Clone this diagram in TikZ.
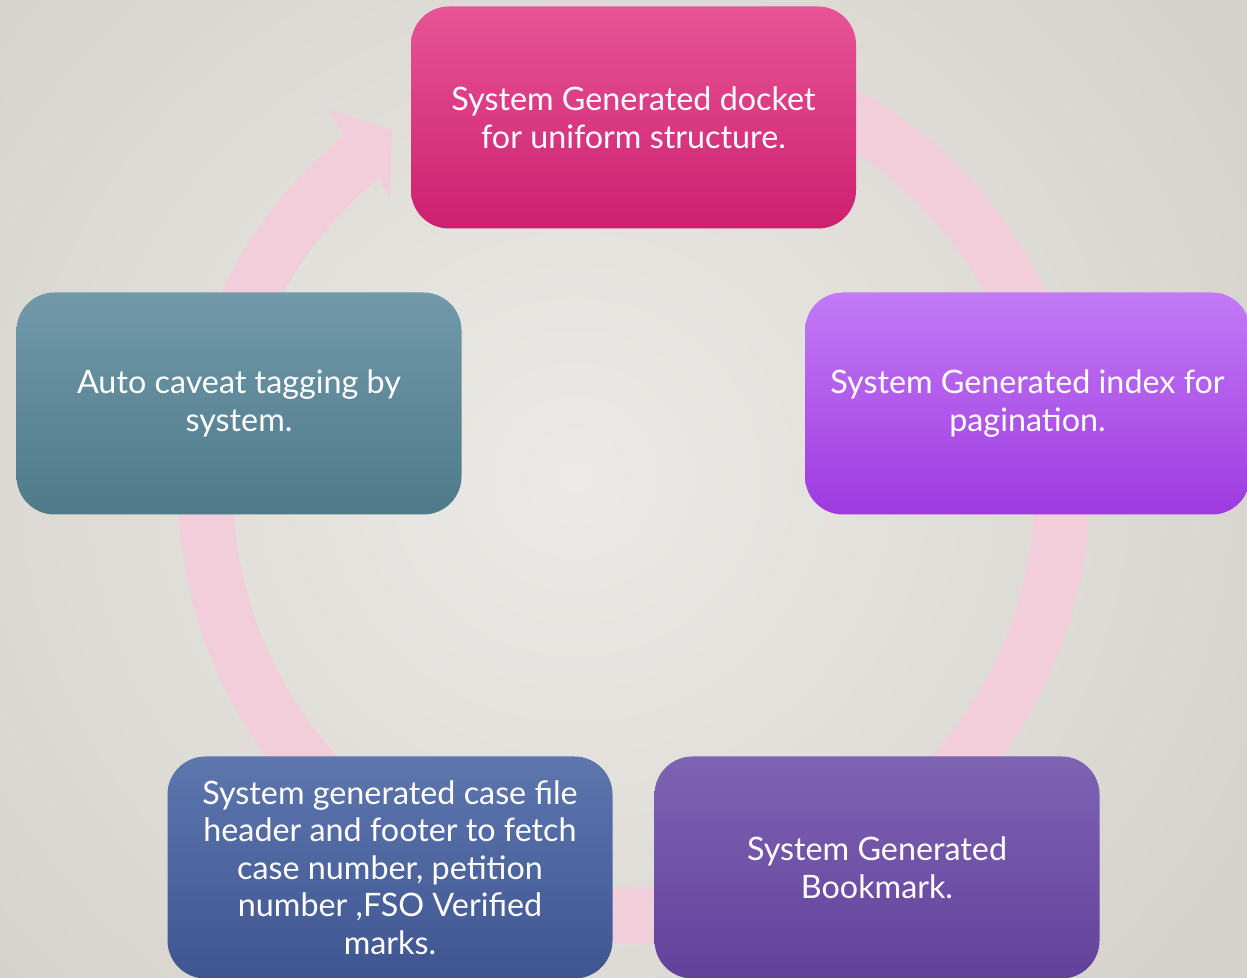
\documentclass[tikz,border=0pt]{standalone}
\usepackage{fontspec}
\setmainfont{Lato}
\definecolor{ringpink}{RGB}{242,205,218}
\definecolor{bginner}{RGB}{236,234,230}
\definecolor{bgouter}{RGB}{214,211,205}
\definecolor{pkT}{RGB}{232,84,150}
\definecolor{pkM}{RGB}{221,26,117}
\definecolor{pkB}{RGB}{204,32,112}
\definecolor{vtT}{RGB}{194,122,245}
\definecolor{vtM}{RGB}{172,76,234}
\definecolor{vtB}{RGB}{158,58,224}
\definecolor{prT}{RGB}{126,99,179}
\definecolor{prM}{RGB}{111,80,167}
\definecolor{prB}{RGB}{98,65,155}
\definecolor{blT}{RGB}{94,118,174}
\definecolor{blM}{RGB}{76,100,160}
\definecolor{blB}{RGB}{62,85,145}
\definecolor{tlT}{RGB}{113,153,169}
\definecolor{tlM}{RGB}{94,137,152}
\definecolor{tlB}{RGB}{78,122,138}
\tikzset{
  cyclebox/.style={rounded corners=38pt, minimum width=445pt, minimum height=222pt,
    inner sep=0pt, align=center, text=white,
    font=\fontsize{32.3}{37.5}\selectfont},
  pinkbox/.style={cyclebox, top color=pkT, middle color=pkM, bottom color=pkB},
  violetbox/.style={cyclebox, top color=vtT, middle color=vtM, bottom color=vtB},
  purplebox/.style={cyclebox, top color=prT, middle color=prM, bottom color=prB},
  bluebox/.style={cyclebox, top color=blT, middle color=blM, bottom color=blB},
  tealbox/.style={cyclebox, top color=tlT, middle color=tlM, bottom color=tlB},
  ringarrow/.style={fill=ringpink, draw=none}
}
\begin{document}
\begin{tikzpicture}[x=1pt,y=1pt]
\useasboundingbox (0,0) rectangle (1247,977);
\clip (0,0) rectangle (1247,977);
\shade[inner color=bginner, outer color=bgouter] (-200,-250) rectangle (1350,1250);
\coordinate (ringc) at (634,490);
\begin{scope}[shift={(ringc)}]
\fill[ringarrow] (80:456) arc[start angle=80, end angle=-230.5, radius=456]
  -- (-306,378) -- (-242,357) -- (-244,287)
  -- (129.5:401) arc[start angle=-230.5, end angle=80, radius=401] -- cycle;
\end{scope}
\node[pinkbox] (docket) at (633.5,859.5) {System Generated docket\\for uniform structure.};
\node[violetbox] (index) at (1027.5,573.5) {System Generated index for\\pagination.};
\node[purplebox] (bookmark) at (877,109.5) {System Generated\\Bookmark.};
\node[bluebox] (header) at (390,109.5) {System generated case file\\header and footer to fetch\\case number, petition\\number ,FSO Verified\\marks.};
\node[tealbox] (caveat) at (239,573.5) {Auto caveat tagging by\\system.};
\end{tikzpicture}
\end{document}
